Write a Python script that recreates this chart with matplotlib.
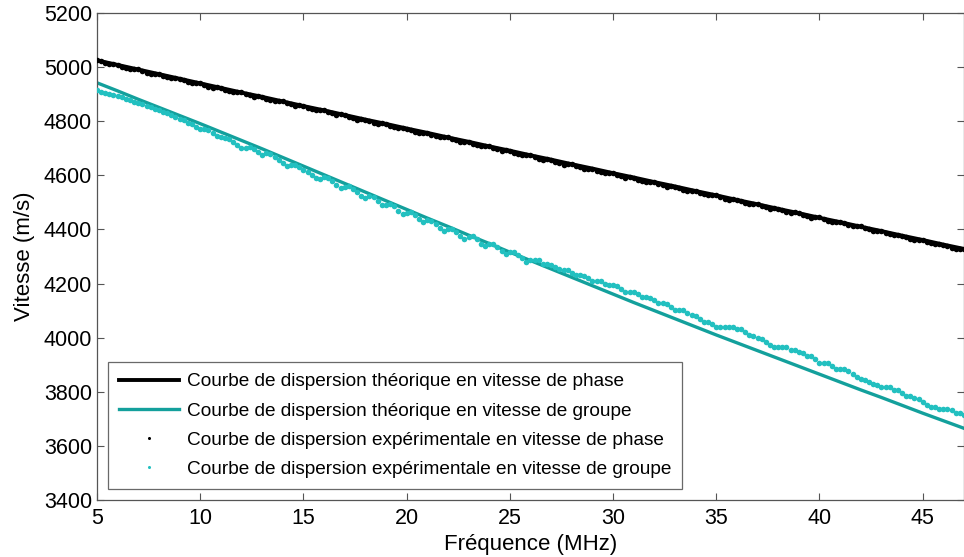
import numpy as np
import matplotlib
matplotlib.use("Agg")
import matplotlib.pyplot as plt

plt.rcParams['font.family'] = ['Liberation Sans', 'DejaVu Sans']

# ---------------- data ----------------
freq_theo = list(range(5, 48))  # MHz
phase_theo = [5025, 5008, 4991, 4974, 4957, 4940, 4923, 4906, 4890, 4873,
              4856, 4840, 4823, 4806, 4790, 4773, 4757, 4740, 4724, 4707,
              4691, 4674, 4658, 4641, 4625, 4608, 4592, 4575, 4559, 4542,
              4526, 4509, 4493, 4476, 4460, 4443, 4427, 4410, 4394, 4377,
              4361, 4344, 4328]
group_theo = [4942, 4912, 4881, 4851, 4821, 4791, 4760, 4729, 4698, 4666,
              4634, 4602, 4570, 4538, 4506, 4474, 4442, 4411, 4379, 4348,
              4316, 4285, 4254, 4223, 4192, 4161, 4130, 4100, 4070, 4040,
              4010, 3981, 3952, 3923, 3894, 3865, 3836, 3807, 3779, 3750,
              3721, 3693, 3665]

freq_exp = np.round(np.arange(5.0, 47.001, 0.2), 1)  # MHz
phase_exp = [5027, 5021, 5015, 5010, 5010, 5008, 5002, 4997, 4992, 4993,
             4992, 4985, 4980, 4975, 4975, 4974, 4968, 4962, 4958, 4960,
             4957, 4951, 4946, 4940, 4941, 4941, 4934, 4928, 4924, 4925,
             4924, 4917, 4911, 4907, 4909, 4907, 4901, 4896, 4890, 4892,
             4890, 4883, 4878, 4874, 4875, 4874, 4868, 4862, 4857, 4859,
             4856, 4850, 4845, 4840, 4842, 4841, 4834, 4829, 4824, 4825,
             4823, 4817, 4811, 4806, 4808, 4806, 4800, 4795, 4790, 4792,
             4791, 4784, 4779, 4774, 4775, 4773, 4767, 4761, 4756, 4758,
             4756, 4750, 4745, 4740, 4742, 4741, 4734, 4729, 4724, 4725,
             4723, 4717, 4711, 4707, 4709, 4707, 4701, 4696, 4690, 4692,
             4690, 4683, 4678, 4674, 4675, 4674, 4668, 4662, 4657, 4659,
             4656, 4650, 4645, 4640, 4642, 4641, 4634, 4629, 4624, 4625,
             4623, 4617, 4611, 4607, 4609, 4607, 4601, 4596, 4591, 4592,
             4591, 4584, 4579, 4575, 4576, 4575, 4569, 4563, 4558, 4560,
             4558, 4552, 4547, 4542, 4543, 4543, 4536, 4531, 4526, 4527,
             4526, 4520, 4514, 4510, 4511, 4510, 4504, 4499, 4493, 4495,
             4494, 4487, 4482, 4477, 4478, 4477, 4471, 4465, 4461, 4463,
             4461, 4455, 4450, 4444, 4446, 4445, 4438, 4433, 4429, 4429,
             4428, 4422, 4416, 4412, 4413, 4411, 4405, 4400, 4395, 4396,
             4395, 4388, 4383, 4379, 4379, 4377, 4372, 4366, 4362, 4362,
             4360, 4355, 4350, 4345, 4345, 4344, 4338, 4333, 4329, 4328,
             4327]
group_exp = [4915, 4909, 4906, 4901, 4896, 4892, 4888, 4883, 4878, 4872,
             4867, 4862, 4856, 4851, 4846, 4841, 4835, 4829, 4823, 4816,
             4810, 4803, 4795, 4788, 4780, 4772, 4770, 4766, 4757, 4747,
             4740, 4738, 4734, 4723, 4711, 4701, 4700, 4704, 4699, 4685,
             4674, 4681, 4677, 4668, 4656, 4645, 4634, 4640, 4640, 4631,
             4621, 4611, 4600, 4590, 4585, 4593, 4589, 4578, 4565, 4553,
             4556, 4559, 4550, 4537, 4524, 4515, 4523, 4520, 4506, 4491,
             4489, 4495, 4485, 4470, 4456, 4462, 4464, 4452, 4437, 4426,
             4434, 4433, 4421, 4406, 4395, 4400, 4402, 4391, 4377, 4366,
             4373, 4374, 4363, 4348, 4337, 4345, 4345, 4335, 4321, 4309,
             4316, 4317, 4307, 4293, 4281, 4288, 4288, 4286, 4274, 4272,
             4270, 4261, 4252, 4251, 4249, 4240, 4231, 4230, 4229, 4220,
             4210, 4210, 4208, 4197, 4195, 4195, 4192, 4180, 4170, 4170,
             4170, 4160, 4149, 4149, 4148, 4138, 4128, 4127, 4125, 4113,
             4103, 4103, 4102, 4093, 4082, 4079, 4068, 4059, 4059, 4049,
             4040, 4039, 4039, 4041, 4040, 4031, 4031, 4021, 4011, 4008,
             3997, 3995, 3983, 3974, 3965, 3964, 3964, 3964, 3955, 3956,
             3946, 3945, 3933, 3932, 3920, 3908, 3907, 3906, 3895, 3886,
             3886, 3885, 3875, 3866, 3856, 3846, 3845, 3837, 3827, 3826,
             3817, 3816, 3816, 3807, 3806, 3795, 3785, 3785, 3777, 3775,
             3763, 3753, 3744, 3743, 3735, 3735, 3735, 3734, 3722, 3722,
             3713]

labels = ["Courbe de dispersion théorique en vitesse de phase",
          "Courbe de dispersion théorique en vitesse de groupe",
          "Courbe de dispersion expérimentale en vitesse de phase",
          "Courbe de dispersion expérimentale en vitesse de groupe"]
xticks = [5, 10, 15, 20, 25, 30, 35, 40, 45]
yticks = list(range(3400, 5201, 200))

# ---------------- styles ----------------
c_phase = "#000000"
c_group_theo = "#13a09c"
c_group_exp = "#22c0c0"

fig = plt.figure(figsize=(9.64, 5.57), dpi=100)
ax = fig.add_axes([0.1006, 0.1023, 0.8994, 0.8744])

ax.plot(freq_theo, phase_theo, color=c_phase, lw=2.8, label=labels[0], zorder=2)
ax.plot(freq_theo, group_theo, color=c_group_theo, lw=2.4, label=labels[1], zorder=2)
ax.plot(freq_exp, phase_exp, linestyle='none', marker='o', ms=4.0, mec='none',
        color=c_phase, label=labels[2], zorder=3)
ax.plot(freq_exp, group_exp, linestyle='none', marker='o', ms=4.0, mec='none',
        color=c_group_exp, label=labels[3], zorder=3)

ax.set_xlim(5, 47)
ax.set_ylim(3400, 5200)
ax.set_xticks(xticks)
ax.set_yticks(yticks)
ax.tick_params(direction='in', length=5, width=0.8, color='#555555',
               top=True, right=True, labelsize=15.5)
ax.tick_params(axis='x', pad=6)
ax.tick_params(axis='y', pad=3.5)
for s in ax.spines.values():
    s.set_color('#555555')
    s.set_linewidth(0.9)

ax.set_xlabel("Fréquence (MHz)", fontsize=16, labelpad=3)
ax.set_ylabel("Vitesse (m/s)", fontsize=16, labelpad=6)

leg = ax.legend(loc='lower left', bbox_to_anchor=(0.0, 0.0), fontsize=13.7,
                frameon=True, fancybox=False, handlelength=3.15, handletextpad=0.42,
                labelspacing=0.63, borderpad=0.55, borderaxespad=0.6,
                markerscale=0.55)
leg.get_frame().set_edgecolor('#444444')
leg.get_frame().set_linewidth(0.9)

fig.savefig("out.png", dpi=100)
